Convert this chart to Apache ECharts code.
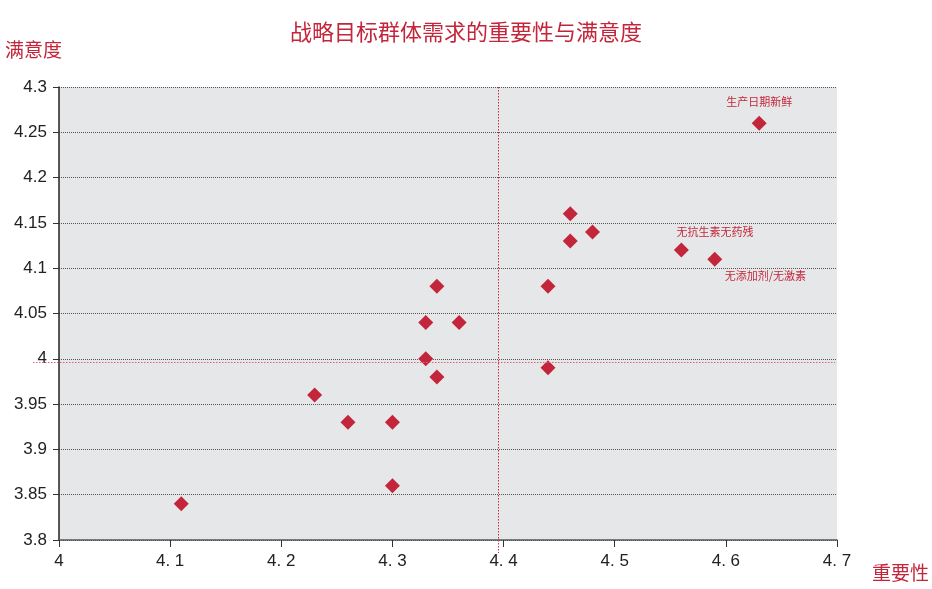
<!DOCTYPE html>
<html><head><meta charset="utf-8">
<script src="https://cdn.jsdelivr.net/npm/echarts@6/dist/echarts.min.js"></script>
<style>html,body{margin:0;padding:0;background:#fff}#c{width:932px;height:589px}</style>
</head><body><div id="c"></div>
<script>
const titleText = '战略目标群体需求的重要性与满意度';
const xName = '重要性';
const yName = '满意度';
const importance = [4.11, 4.23, 4.26, 4.30, 4.30, 4.33, 4.33, 4.34, 4.34, 4.36, 4.44, 4.44, 4.46, 4.46, 4.48, 4.56, 4.59, 4.63];
const satisfaction = [3.84, 3.96, 3.93, 3.93, 3.86, 4.00, 4.04, 4.08, 3.98, 4.04, 4.08, 3.99, 4.16, 4.13, 4.14, 4.12, 4.11, 4.26];
const pointLabels = ['', '', '', '', '', '', '', '', '', '', '', '', '', '', '', '无抗生素无药残', '无添加剂/无激素', '生产日期新鲜'];
const meanImportance = 4.395;
const meanSatisfaction = 3.996;
const xMin = 4, xMax = 4.7, xStep = 0.1;
const yMin = 3.8, yMax = 4.3, yStep = 0.05;

const RED = '#c3263a';
const labelStyles = {
  '无抗生素无药残': {position: 'top', align: 'left', distance: 5, offset: [-5, 0]},
  '无添加剂/无激素': {position: 'bottom', align: 'left', distance: 4, offset: [10, 0]},
  '生产日期新鲜': {position: 'top', align: 'center', distance: 8, offset: [0, 0]}
};
const data = importance.map((x, i) => {
  const item = {value: [x, satisfaction[i]]};
  if (pointLabels[i]) {
    item.label = Object.assign({show: true, formatter: pointLabels[i], color: RED, fontSize: 11,
      fontFamily: '"Noto Sans CJK SC", sans-serif'}, labelStyles[pointLabels[i]]);
  }
  return item;
});

const chart = echarts.init(document.getElementById('c'));
const option = {
  animation: false,
  title: {text: titleText, left: 'center', top: 16,
    textStyle: {color: RED, fontSize: 22, fontWeight: 'normal', fontFamily: '"Noto Sans CJK SC", sans-serif'}},
  grid: {left: 59, top: 87, right: 95, bottom: 49, show: true, backgroundColor: '#e6e7e9', borderWidth: 0},
  xAxis: {type: 'value', min: xMin, max: xMax, interval: xStep,
    name: xName, nameLocation: 'end', nameGap: 0,
    nameTextStyle: {color: RED, fontSize: 19, fontFamily: '"Noto Sans CJK SC", sans-serif', align: 'left', verticalAlign: 'top', padding: [23, 0, 0, 35]},
    axisLine: {lineStyle: {color: '#555', width: 1.5}},
    axisTick: {show: true, inside: false, length: 7, lineStyle: {color: '#333'}},
    axisLabel: {color: '#222', fontSize: 17, margin: 13, fontFamily: 'Liberation Sans, Arial, sans-serif',
      formatter: v => { const s = (+v.toFixed(1)).toString(); return s.replace('.', '. '); }},
    splitLine: {show: false}},
  yAxis: {type: 'value', min: yMin, max: yMax, interval: yStep,
    name: yName, nameLocation: 'end', nameGap: 0,
    nameTextStyle: {color: RED, fontSize: 19, fontFamily: '"Noto Sans CJK SC", sans-serif', align: 'left', verticalAlign: 'bottom', padding: [0, 0, 28, -54]},
    axisLine: {show: true, lineStyle: {color: '#222', width: 1.5}},
    axisTick: {show: true, inside: false, length: 6, lineStyle: {color: '#333'}},
    axisLabel: {color: '#222', fontSize: 17, margin: 12, fontFamily: 'Liberation Sans, Arial, sans-serif',
      formatter: v => (+v.toFixed(2)).toString()},
    splitLine: {show: true, lineStyle: {color: '#555', type: [1, 1], width: 1}}},
  series: [{type: 'scatter', symbol: 'diamond', symbolSize: 15,
    itemStyle: {color: RED, opacity: 1}, data: data, z: 5}]
};
chart.setOption(option);

const pMean = chart.convertToPixel({gridIndex: 0}, [meanImportance, meanSatisfaction]);
const pTL = chart.convertToPixel({gridIndex: 0}, [xMin, yMax]);
const pBR = chart.convertToPixel({gridIndex: 0}, [xMax, yMin]);
const hy = Math.round(pMean[1]) + 0.5;
const vx = Math.round(pMean[0]) + 0.5;
chart.setOption({graphic: [
  {type: 'line', z: 100, silent: true, shape: {x1: pTL[0] - 26, y1: hy, x2: pBR[0] - 2, y2: hy},
    style: {stroke: '#e0606f', lineWidth: 1, lineDash: [1.5, 1.5]}},
  {type: 'line', z: 100, silent: true, shape: {x1: vx, y1: pTL[1], x2: vx, y2: pBR[1] + 13},
    style: {stroke: '#d0283c', lineWidth: 1, lineDash: [1.5, 1.5]}}
]});
</script></body></html>
